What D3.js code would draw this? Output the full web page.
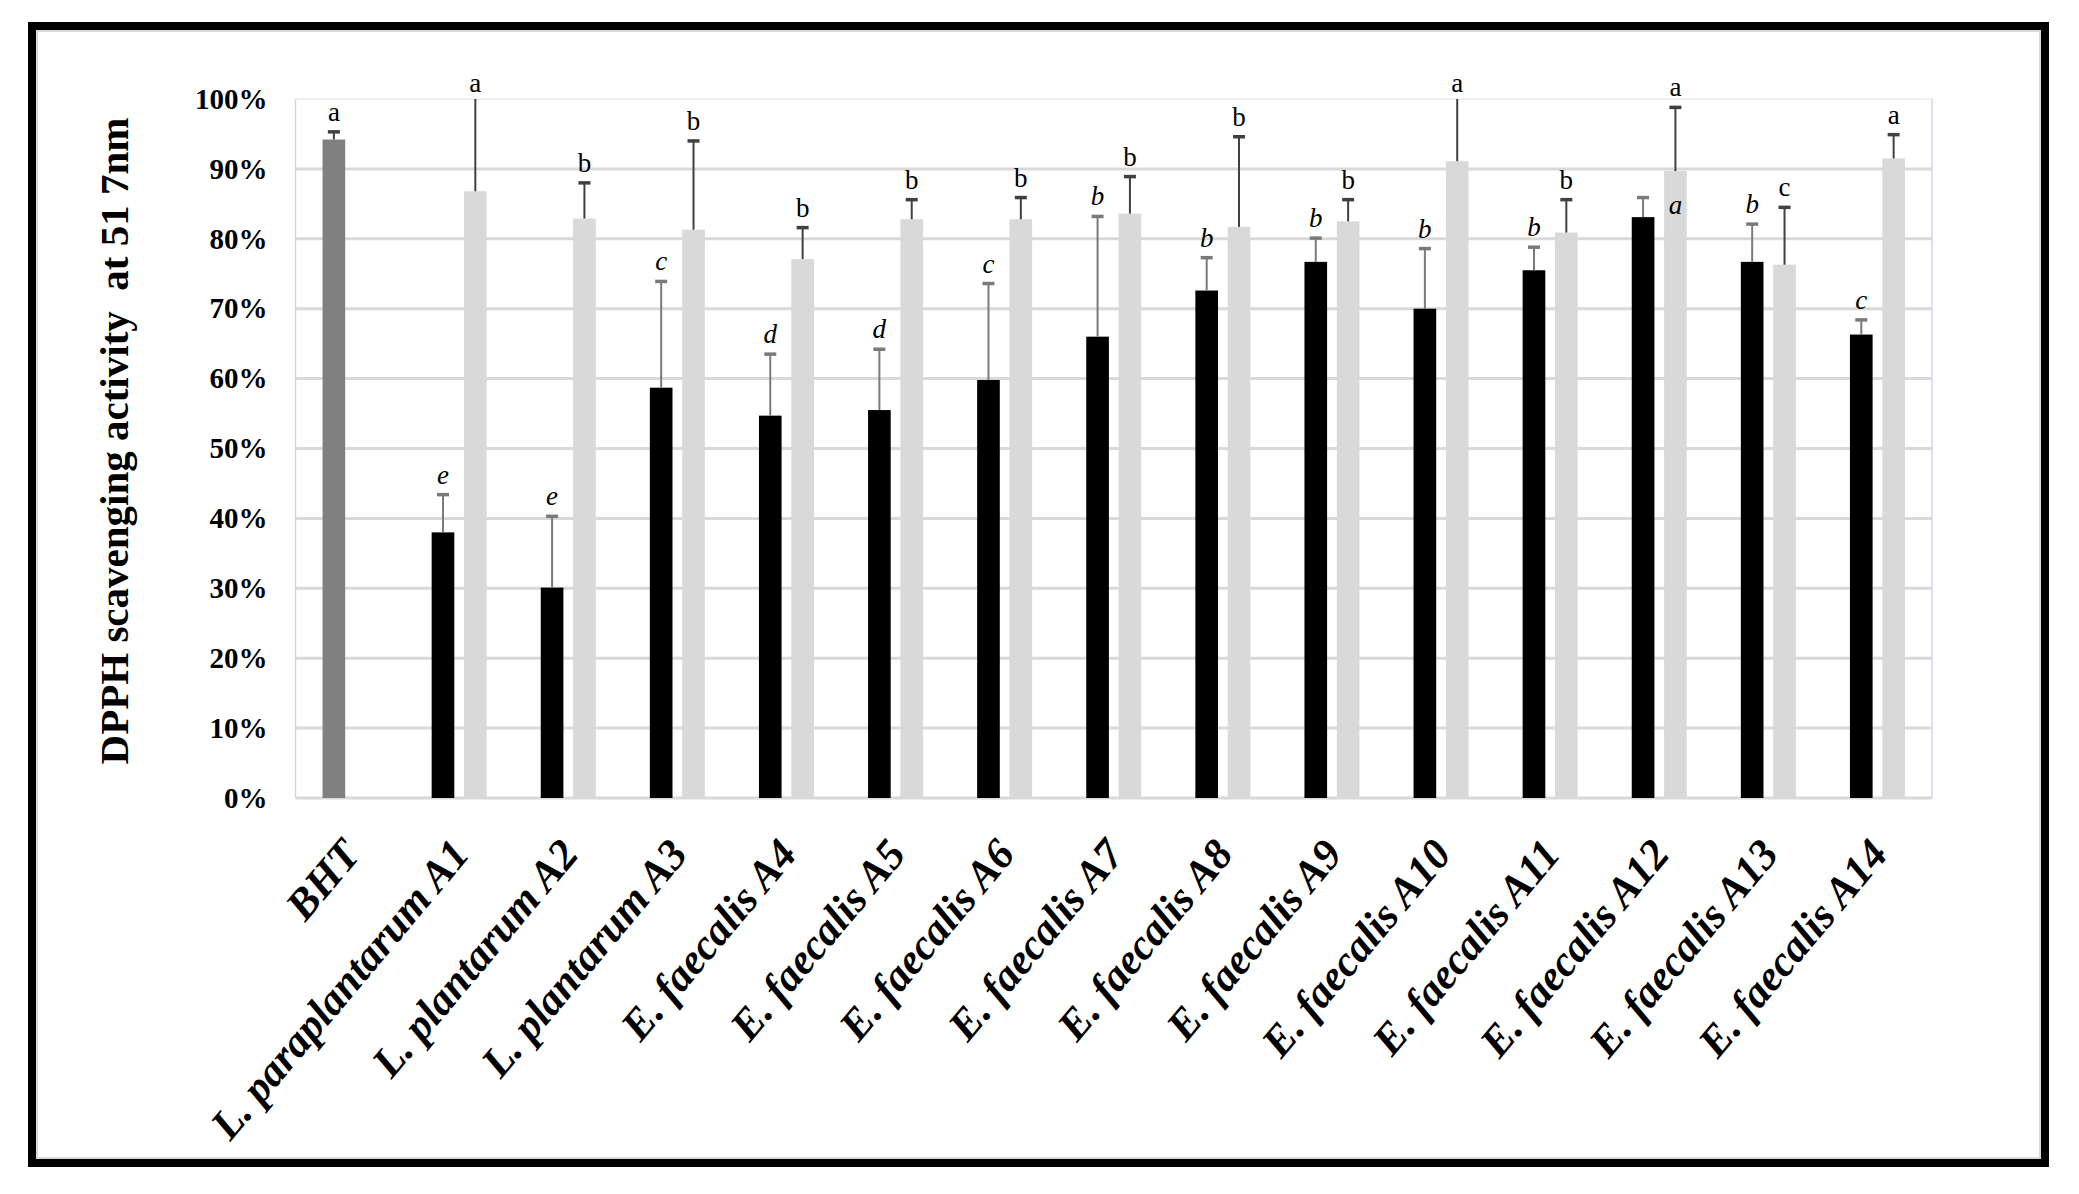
<!DOCTYPE html>
<html>
<head>
<meta charset="utf-8">
<script src="https://cdn.jsdelivr.net/npm/d3@7"></script>
<style>
  html, body { margin: 0; padding: 0; background: #fff; }
  svg { display: block; }
</style>
</head>
<body>
<script>
// ---------------- data ----------------
const categories = [
  "BHT", "L. paraplantarum A1", "L. plantarum A2", "L. plantarum A3",
  "E. faecalis A4", "E. faecalis A5", "E. faecalis A6", "E. faecalis A7",
  "E. faecalis A8", "E. faecalis A9", "E. faecalis A10", "E. faecalis A11",
  "E. faecalis A12", "E. faecalis A13", "E. faecalis A14"
];
// series 1: BHT (first) then black bars
const series1Values = [94.2, 38.0, 30.1, 58.7, 54.7, 55.5, 59.8, 66.0, 72.6, 76.7, 70.0, 75.5, 83.1, 76.7, 66.3];
const series1Errors = [1.1, 5.4, 10.2, 15.2, 8.8, 8.7, 13.8, 17.2, 4.7, 3.4, 8.6, 3.3, 2.8, 5.4, 2.1];
const series1Letters = ["a", "e", "e", "c", "d", "d", "c", "b", "b", "b", "b", "b", "a", "b", "c"];
// series 2: light grey bars
const series2Values = [null, 86.8, 82.9, 81.3, 77.1, 82.8, 82.8, 83.6, 81.7, 82.5, 91.1, 80.9, 89.7, 76.3, 91.5];
const series2Errors = [null, 14.0, 5.1, 12.7, 4.5, 2.8, 3.1, 5.3, 12.9, 3.1, 10.0, 4.7, 9.1, 8.2, 3.4];
const series2Letters = [null, "a", "b", "b", "b", "b", "b", "b", "b", "b", "a", "b", "a", "c", "a"];
const yTicks = [0, 10, 20, 30, 40, 50, 60, 70, 80, 90, 100];
const yTitle = "DPPH scavenging activity\u00a0\u00a0at 51 7nm";

// ---------------- layout ----------------
const W = 2079, H = 1194;
const plot = { left: 295.5, right: 1932, top: 99, bottom: 798 };
const serif = "'Liberation Serif', 'Times New Roman', serif";

const svg = d3.select("body").append("svg")
  .attr("width", W).attr("height", H)
  .attr("viewBox", `0 0 ${W} ${H}`);

svg.append("rect").attr("width", W).attr("height", H).attr("fill", "#fff");

// frame
svg.append("rect").attr("x", 37).attr("y", 31).attr("width", 2003).attr("height", 1127)
  .attr("fill", "none").attr("stroke", "#d9d9d9").attr("stroke-width", 2);
svg.append("rect").attr("x", 32).attr("y", 26).attr("width", 2013).attr("height", 1137)
  .attr("fill", "none").attr("stroke", "#000").attr("stroke-width", 8);

const x0 = d3.scaleBand().domain(categories).range([plot.left, plot.right]).padding(0);
const bw = x0.bandwidth();
const x1 = d3.scaleBand().domain(["s1", "s2"])
  .range([bw / 2 - 27.5, bw / 2 + 27.5]).paddingInner(0.3);
const y = d3.scaleLinear().domain([0, 100]).range([plot.bottom, plot.top]);

// gridlines
const g = svg.append("g");
g.selectAll("line.grid").data(yTicks).enter().append("line")
  .attr("x1", plot.left).attr("x2", plot.right)
  .attr("y1", d => y(d)).attr("y2", d => y(d))
  .attr("stroke", d => d === 100 ? "#eef0f4" : "#d9d9d9")
  .attr("stroke-width", d => d === 100 ? 2 : 3);
// plot area side borders
[plot.left, plot.right].forEach(xx => {
  g.append("line").attr("x1", xx).attr("x2", xx).attr("y1", plot.top).attr("y2", plot.bottom)
    .attr("stroke", "#cdd9ec").attr("stroke-width", 1.5);
});

// y axis
const yAxis = svg.append("g").attr("transform", `translate(${plot.left},0)`)
  .call(d3.axisLeft(y).tickValues(yTicks).tickFormat(d => d + "%").tickSize(0).tickPadding(28));
yAxis.select(".domain").remove();
yAxis.selectAll("text")
  .attr("font-family", serif).attr("font-size", 29).attr("font-weight", "bold").attr("fill", "#000");

// x axis
const xAxis = svg.append("g").attr("transform", `translate(0,${plot.bottom})`)
  .call(d3.axisBottom(x0).tickSize(0));
xAxis.select(".domain").remove();
xAxis.selectAll("text")
  .attr("font-family", serif).attr("font-size", 43).attr("font-weight", "bold")
  .attr("font-style", "italic").attr("fill", "#000")
  .attr("text-anchor", "end").attr("x", 0).attr("y", 0).attr("dy", 0)
  .attr("transform", "translate(12,57) rotate(-50)");

// y title
svg.append("text")
  .attr("transform", "translate(114,441) rotate(-90)")
  .attr("text-anchor", "middle").attr("dy", "0.33em")
  .attr("font-family", serif).attr("font-size", 41).attr("font-weight", "bold")
  .attr("xml:space", "preserve")
  .text(yTitle);

// bars
const rows = categories.map((c, i) => ({
  cat: c, i,
  s1: series1Values[i], e1: series1Errors[i], l1: series1Letters[i],
  s2: series2Values[i], e2: series2Errors[i], l2: series2Letters[i]
}));

const barsG = svg.append("g");
const labelsG = svg.append("g");
rows.forEach(r => {
  const base = x0(r.cat);
  const bars = [
    { key: "s1", v: r.s1, e: r.e1, l: r.l1,
      fill: r.i === 0 ? "#808080" : "#000000",
      err: r.i === 0 ? "#404040" : "#7a7a7a",
      italic: r.i !== 0 },
    { key: "s2", v: r.s2, e: r.e2, l: r.l2, fill: "#d9d9d9", err: "#404040", italic: false }
  ];
  bars.forEach(b => {
    if (b.v == null) return;
    const bx = base + x1(b.key);
    const cx = bx + x1.bandwidth() / 2;
    barsG.append("rect")
      .attr("x", bx).attr("y", y(b.v))
      .attr("width", x1.bandwidth()).attr("height", y(0) - y(b.v))
      .attr("fill", b.fill);
    const top = Math.min(b.v + b.e, 100);
    barsG.append("line").attr("x1", cx).attr("x2", cx)
      .attr("y1", y(b.v)).attr("y2", y(top))
      .attr("stroke", b.err).attr("stroke-width", 2);
    if (b.v + b.e <= 100) {
      barsG.append("line").attr("x1", cx - 6).attr("x2", cx + 6)
        .attr("y1", y(top)).attr("y2", y(top))
        .attr("stroke", b.err).attr("stroke-width", 3.5);
    }
    // significance letter
    let lx = cx, ly = y(top) - (b.v + b.e > 100 ? 7 : 11);
    if (r.cat === "E. faecalis A12" && b.key === "s1") {
      // in the original this letter sits beside the bar, over the grey bar
      lx = base + x1("s2") + x1.bandwidth() / 2;
      ly = y(top) + 16;
    }
    labelsG.append("text")
      .attr("x", lx).attr("y", ly)
      .attr("text-anchor", "middle")
      .attr("font-family", serif).attr("font-size", 27)
      .attr("font-style", b.italic ? "italic" : "normal")
      .attr("fill", "#000")
      .text(b.l);
  });
});
</script>
</body>
</html>
